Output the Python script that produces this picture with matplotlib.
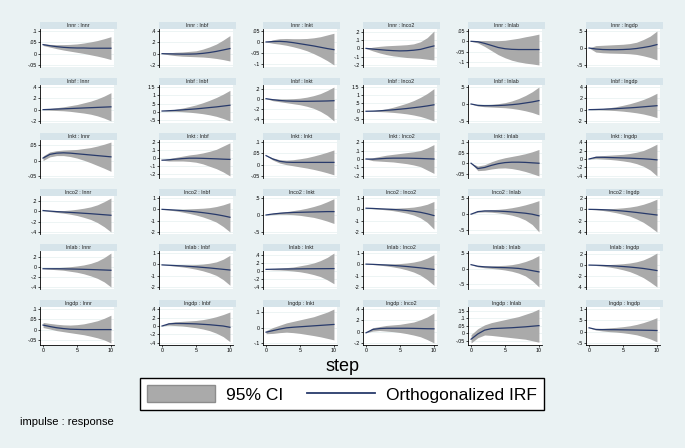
import matplotlib
matplotlib.use("Agg")
import matplotlib.pyplot as plt
from matplotlib.patches import Patch
from matplotlib.lines import Line2D

plt.rcParams["font.family"] = ["Liberation Sans", "DejaVu Sans"]

variables = ["lnnr", "lnbf", "lnkt", "lnco2", "lnlab", "lngdp"]
steps = [0, 1, 2, 3, 4, 5, 6, 7, 8, 9, 10]

# impulse lnnr -> responses lnnr, lnbf, lnkt, lnco2, lnlab, lngdp
irf_lnnr = [
    [0.040, 0.035, 0.031, 0.028, 0.026, 0.025, 0.025, 0.024, 0.024, 0.024, 0.024],
    [0, -0.003, -0.006, -0.008, -0.008, -0.005, 0.005, 0.02, 0.04, 0.065, 0.09],
    [0, 0.002, 0.003, 0.001, -0.003, -0.008, -0.013, -0.018, -0.024, -0.03, -0.035],
    [0, -0.008, -0.015, -0.022, -0.027, -0.03, -0.028, -0.022, -0.012, 0.01, 0.03],
    [0, -0.002, -0.01, -0.02, -0.03, -0.036, -0.039, -0.04, -0.04, -0.04, -0.04],
    [0, -0.03, -0.045, -0.05, -0.05, -0.045, -0.035, -0.015, 0.015, 0.05, 0.1],
]
lo_lnnr = [
    [0.036, 0.029, 0.022, 0.016, 0.011, 0.006, 0.001, -0.005, -0.011, -0.018, -0.026],
    [0, -0.02, -0.035, -0.045, -0.05, -0.055, -0.06, -0.07, -0.085, -0.105, -0.13],
    [0, -0.006, -0.01, -0.015, -0.022, -0.03, -0.04, -0.053, -0.068, -0.085, -0.105],
    [0, -0.03, -0.055, -0.075, -0.09, -0.1, -0.11, -0.115, -0.12, -0.13, -0.14],
    [0, -0.008, -0.025, -0.045, -0.065, -0.08, -0.092, -0.1, -0.106, -0.11, -0.115],
    [0, -0.12, -0.14, -0.15, -0.155, -0.16, -0.17, -0.19, -0.23, -0.28, -0.35],
]
hi_lnnr = [
    [0.044, 0.041, 0.040, 0.040, 0.041, 0.043, 0.047, 0.052, 0.058, 0.066, 0.075],
    [0, 0.015, 0.025, 0.03, 0.04, 0.05, 0.08, 0.12, 0.17, 0.24, 0.32],
    [0, 0.01, 0.015, 0.016, 0.015, 0.015, 0.016, 0.019, 0.024, 0.032, 0.04],
    [0, 0.015, 0.025, 0.032, 0.036, 0.04, 0.045, 0.055, 0.08, 0.13, 0.21],
    [0, 0.004, 0.004, 0.003, 0.003, 0.005, 0.01, 0.015, 0.022, 0.028, 0.035],
    [0, 0.07, 0.08, 0.09, 0.1, 0.11, 0.13, 0.17, 0.25, 0.35, 0.5],
]

irf_lnbf = [
    [0, 0.005, 0.01, 0.015, 0.02, 0.025, 0.03, 0.035, 0.04, 0.045, 0.05],
    [0.05, 0.07, 0.09, 0.12, 0.15, 0.18, 0.22, 0.26, 0.3, 0.35, 0.4],
    [0, -0.02, -0.035, -0.045, -0.05, -0.052, -0.052, -0.05, -0.048, -0.045, -0.04],
    [0, 0.01, 0.03, 0.06, 0.09, 0.13, 0.17, 0.22, 0.27, 0.33, 0.4],
    [0, -0.04, -0.05, -0.05, -0.045, -0.035, -0.02, 0, 0.03, 0.06, 0.1],
    [0, 0.03, 0.07, 0.12, 0.18, 0.25, 0.32, 0.4, 0.5, 0.6, 0.7],
]
lo_lnbf = [
    [0, -0.01, -0.015, -0.02, -0.03, -0.045, -0.06, -0.08, -0.11, -0.15, -0.2],
    [0.05, 0.04, 0.03, 0.01, -0.02, -0.06, -0.11, -0.18, -0.27, -0.4, -0.55],
    [0, -0.04, -0.06, -0.08, -0.1, -0.12, -0.15, -0.19, -0.25, -0.33, -0.44],
    [0, -0.01, -0.02, -0.04, -0.07, -0.11, -0.16, -0.23, -0.32, -0.45, -0.6],
    [0, -0.06, -0.08, -0.09, -0.1, -0.11, -0.13, -0.16, -0.2, -0.25, -0.32],
    [0, -0.02, -0.05, -0.1, -0.17, -0.27, -0.4, -0.56, -0.77, -1.05, -1.4],
]
hi_lnbf = [
    [0, 0.02, 0.035, 0.05, 0.07, 0.09, 0.12, 0.15, 0.19, 0.24, 0.3],
    [0.05, 0.1, 0.16, 0.23, 0.32, 0.42, 0.55, 0.7, 0.87, 1.07, 1.3],
    [0, 0, -0.005, -0.005, 0, 0.01, 0.03, 0.06, 0.1, 0.16, 0.23],
    [0, 0.03, 0.08, 0.15, 0.25, 0.37, 0.5, 0.66, 0.86, 1.1, 1.4],
    [0, -0.02, -0.02, -0.01, 0.01, 0.04, 0.09, 0.16, 0.25, 0.36, 0.5],
    [0, 0.08, 0.19, 0.34, 0.53, 0.77, 1.05, 1.4, 1.8, 2.3, 2.9],
]

irf_lnkt = [
    [0.008, 0.02, 0.024, 0.025, 0.024, 0.022, 0.02, 0.018, 0.016, 0.014, 0.012],
    [-0.025, -0.02, -0.012, -0.005, 0, 0, -0.002, -0.005, -0.008, -0.012, -0.015],
    [0.04, 0.025, 0.015, 0.011, 0.01, 0.01, 0.01, 0.01, 0.01, 0.01, 0.01],
    [0, -0.002, 0.003, 0.008, 0.01, 0.01, 0.01, 0.008, 0.006, 0.003, 0],
    [0, -0.025, -0.02, -0.01, -0.002, 0.003, 0.005, 0.005, 0.004, 0.002, 0],
    [0, 0.04, 0.04, 0.035, 0.03, 0.025, 0.02, 0.012, 0.005, -0.005, -0.02],
]
lo_lnkt = [
    [0.0, 0.012, 0.016, 0.016, 0.013, 0.008, 0.001, -0.007, -0.016, -0.025, -0.035],
    [-0.025, -0.035, -0.035, -0.035, -0.04, -0.05, -0.07, -0.1, -0.13, -0.17, -0.22],
    [0.04, 0.02, 0.007, 0.0, -0.005, -0.01, -0.015, -0.021, -0.028, -0.036, -0.045],
    [0, -0.02, -0.025, -0.03, -0.035, -0.045, -0.055, -0.07, -0.09, -0.13, -0.17],
    [0, -0.035, -0.033, -0.027, -0.023, -0.022, -0.025, -0.031, -0.039, -0.049, -0.06],
    [0, 0.01, 0, -0.01, -0.025, -0.045, -0.07, -0.11, -0.17, -0.26, -0.4],
]
hi_lnkt = [
    [0.015, 0.028, 0.032, 0.034, 0.035, 0.036, 0.039, 0.042, 0.047, 0.053, 0.06],
    [-0.025, -0.005, 0.01, 0.025, 0.04, 0.05, 0.065, 0.085, 0.11, 0.15, 0.19],
    [0.04, 0.03, 0.022, 0.02, 0.022, 0.026, 0.031, 0.038, 0.046, 0.055, 0.065],
    [0, 0.015, 0.03, 0.045, 0.055, 0.065, 0.075, 0.085, 0.1, 0.13, 0.17],
    [0, -0.013, -0.007, 0.007, 0.018, 0.026, 0.032, 0.038, 0.045, 0.054, 0.065],
    [0, 0.07, 0.08, 0.09, 0.1, 0.11, 0.13, 0.16, 0.2, 0.27, 0.35],
]

irf_lnco2 = [
    [0.01, 0, -0.01, -0.018, -0.025, -0.033, -0.042, -0.05, -0.06, -0.07, -0.08],
    [0, -0.03, -0.07, -0.11, -0.16, -0.22, -0.29, -0.37, -0.46, -0.57, -0.7],
    [0, 0.03, 0.05, 0.065, 0.075, 0.08, 0.085, 0.09, 0.095, 0.1, 0.1],
    [0.1, 0.08, 0.05, 0.02, -0.01, -0.05, -0.1, -0.17, -0.26, -0.39, -0.55],
    [0, 0.08, 0.1, 0.1, 0.095, 0.085, 0.07, 0.05, 0.03, 0, -0.05],
    [0, -0.02, -0.06, -0.12, -0.2, -0.3, -0.42, -0.55, -0.7, -0.85, -1.0],
]
lo_lnco2 = [
    [0.01, -0.01, -0.025, -0.04, -0.06, -0.085, -0.12, -0.16, -0.22, -0.3, -0.4],
    [0, -0.06, -0.14, -0.24, -0.36, -0.5, -0.67, -0.88, -1.13, -1.52, -2.0],
    [0, 0.01, 0.02, 0.02, 0.01, -0.01, -0.04, -0.07, -0.12, -0.18, -0.25],
    [0.1, 0.06, 0.01, -0.05, -0.12, -0.22, -0.34, -0.5, -0.75, -1.15, -1.75],
    [0, 0.06, 0.07, 0.06, 0.04, 0.01, -0.03, -0.09, -0.18, -0.32, -0.55],
    [0, -0.08, -0.2, -0.38, -0.6, -0.88, -1.2, -1.7, -2.3, -3.1, -4.0],
]
hi_lnco2 = [
    [0.01, 0.01, 0.008, 0.01, 0.02, 0.035, 0.055, 0.08, 0.12, 0.18, 0.25],
    [0, 0.0, 0.0, 0.01, 0.04, 0.07, 0.1, 0.15, 0.25, 0.4, 0.6],
    [0, 0.05, 0.08, 0.1, 0.13, 0.16, 0.2, 0.25, 0.31, 0.39, 0.48],
    [0.1, 0.1, 0.09, 0.09, 0.1, 0.12, 0.15, 0.2, 0.3, 0.45, 0.7],
    [0, 0.1, 0.13, 0.14, 0.15, 0.17, 0.2, 0.24, 0.29, 0.35, 0.42],
    [0, 0.04, 0.07, 0.12, 0.18, 0.27, 0.4, 0.6, 0.9, 1.3, 1.8],
]

irf_lnlab = [
    [-0.04, -0.04, -0.04, -0.042, -0.045, -0.048, -0.052, -0.056, -0.06, -0.065, -0.07],
    [-0.05, -0.08, -0.11, -0.14, -0.18, -0.22, -0.27, -0.32, -0.38, -0.44, -0.5],
    [0.04, 0.045, 0.048, 0.05, 0.052, 0.054, 0.056, 0.057, 0.058, 0.059, 0.06],
    [0.02, 0.0, -0.03, -0.06, -0.1, -0.14, -0.19, -0.25, -0.31, -0.38, -0.45],
    [0.13, 0.08, 0.06, 0.05, 0.04, 0.035, 0.025, 0.01, -0.02, -0.06, -0.1],
    [0, -0.03, -0.07, -0.12, -0.18, -0.26, -0.36, -0.48, -0.62, -0.8, -1.0],
]
lo_lnlab = [
    [-0.04, -0.05, -0.06, -0.07, -0.09, -0.11, -0.14, -0.18, -0.23, -0.3, -0.4],
    [-0.05, -0.1, -0.16, -0.23, -0.32, -0.43, -0.57, -0.75, -0.98, -1.35, -1.85],
    [0.04, 0.03, 0.025, 0.015, 0.0, -0.02, -0.05, -0.09, -0.14, -0.22, -0.32],
    [0.02, -0.02, -0.07, -0.14, -0.23, -0.34, -0.49, -0.68, -0.95, -1.35, -1.85],
    [0.13, 0.06, 0.03, 0.01, -0.01, -0.04, -0.08, -0.14, -0.23, -0.38, -0.58],
    [0, -0.08, -0.2, -0.36, -0.58, -0.86, -1.2, -1.7, -2.3, -3.1, -4.0],
]
hi_lnlab = [
    [-0.04, -0.03, -0.02, -0.01, 0.0, 0.015, 0.035, 0.065, 0.11, 0.18, 0.27],
    [-0.05, -0.06, -0.06, -0.05, -0.04, -0.02, 0.02, 0.1, 0.22, 0.45, 0.8],
    [0.04, 0.06, 0.07, 0.085, 0.1, 0.13, 0.16, 0.2, 0.26, 0.34, 0.45],
    [0.02, 0.02, 0.01, 0.02, 0.04, 0.07, 0.12, 0.2, 0.33, 0.55, 0.85],
    [0.13, 0.1, 0.09, 0.09, 0.1, 0.11, 0.13, 0.17, 0.23, 0.31, 0.42],
    [0, 0.02, 0.06, 0.1, 0.16, 0.25, 0.38, 0.6, 0.95, 1.5, 2.2],
]

irf_lngdp = [
    [0.022, 0.015, 0.009, 0.005, 0.002, 0.001, 0.0, 0.0, 0.0, 0.0, 0.0],
    [0, 0.05, 0.06, 0.058, 0.055, 0.05, 0.04, 0.03, 0.015, 0, -0.03],
    [-0.03, -0.02, -0.01, -0.002, 0.002, 0.005, 0.008, 0.011, 0.014, 0.017, 0.02],
    [-0.02, 0.04, 0.055, 0.06, 0.06, 0.06, 0.06, 0.058, 0.055, 0.052, 0.05],
    [-0.04, -0.005, 0.02, 0.03, 0.032, 0.034, 0.036, 0.039, 0.042, 0.046, 0.05],
    [0.17, 0.1, 0.09, 0.088, 0.085, 0.08, 0.075, 0.07, 0.065, 0.06, 0.05],
]
lo_lngdp = [
    [0.01, 0.003, -0.005, -0.01, -0.015, -0.02, -0.025, -0.032, -0.04, -0.05, -0.065],
    [0, 0.02, 0.01, 0, -0.02, -0.04, -0.07, -0.11, -0.17, -0.25, -0.37],
    [-0.04, -0.038, -0.033, -0.03, -0.033, -0.038, -0.045, -0.052, -0.06, -0.07, -0.08],
    [-0.02, 0.01, 0.02, 0.01, 0.0, -0.015, -0.035, -0.06, -0.09, -0.14, -0.2],
    [-0.065, -0.03, -0.012, -0.015, -0.02, -0.025, -0.03, -0.035, -0.04, -0.05, -0.06],
    [0.17, 0.07, 0.03, 0.0, -0.02, -0.05, -0.09, -0.14, -0.22, -0.32, -0.45],
]
hi_lngdp = [
    [0.035, 0.03, 0.026, 0.023, 0.022, 0.024, 0.028, 0.035, 0.043, 0.055, 0.07],
    [0, 0.08, 0.1, 0.11, 0.12, 0.13, 0.15, 0.18, 0.22, 0.27, 0.33],
    [-0.02, 0.0, 0.015, 0.03, 0.04, 0.05, 0.06, 0.07, 0.085, 0.1, 0.12],
    [-0.02, 0.07, 0.09, 0.11, 0.12, 0.13, 0.15, 0.17, 0.21, 0.26, 0.33],
    [-0.01, 0.03, 0.055, 0.07, 0.08, 0.09, 0.1, 0.11, 0.125, 0.14, 0.16],
    [0.17, 0.13, 0.15, 0.17, 0.19, 0.22, 0.26, 0.32, 0.4, 0.5, 0.62],
]

yticks_lnnr = [[-.05, 0, .05, .1], [-.2, 0, .2, .4], [-.1, -.05, 0, .05],
               [-.2, -.1, 0, .1, .2], [-.1, -.05, 0, .05], [-.5, 0, .5]]
yticks_lnbf = [[-.2, 0, .2, .4], [-.5, 0, .5, 1, 1.5], [-.4, -.2, 0, .2],
               [-.5, 0, .5, 1, 1.5], [-.5, 0, .5], [-2, 0, 2, 4]]
yticks_lnkt = [[-.05, 0, .05], [-.2, -.1, 0, .1, .2], [-.05, 0, .05, .1],
               [-.2, -.1, 0, .1, .2], [-.05, 0, .05, .1], [-.4, -.2, 0, .2, .4]]
yticks_lnco2 = [[-.4, -.2, 0, .2], [-2, -1, 0, 1], [-.5, 0, .5],
                [-2, -1, 0, 1], [-.5, 0, .5], [-4, -2, 0, 2]]
yticks_lnlab = [[-.4, -.2, 0, .2], [-2, -1, 0, 1], [-.4, -.2, 0, .2, .4],
                [-2, -1, 0, 1], [-.5, 0, .5], [-4, -2, 0, 2]]
yticks_lngdp = [[-.05, 0, .05, .1], [-.4, -.2, 0, .2, .4], [-.1, 0, .1],
                [-.2, 0, .2, .4], [-.05, 0, .05, .1, .15], [-.5, 0, .5, 1]]

irf_all = [irf_lnnr, irf_lnbf, irf_lnkt, irf_lnco2, irf_lnlab, irf_lngdp]
lo_all = [lo_lnnr, lo_lnbf, lo_lnkt, lo_lnco2, lo_lnlab, lo_lngdp]
hi_all = [hi_lnnr, hi_lnbf, hi_lnkt, hi_lnco2, hi_lnlab, hi_lngdp]
yticks_all = [yticks_lnnr, yticks_lnbf, yticks_lnkt, yticks_lnco2, yticks_lnlab, yticks_lngdp]

BG = "#eaf2f3"
BAND = "#d6e4ea"
CI = "#aaaaaa"
LINE = "#283a6b"

W, H = 685, 448
col_x = [40, 159, 263, 363, 468, 586]
row_y = [29, 85, 140, 196, 251, 307]
pw, ph, th = 74, 38, 7


def stata_fmt(v):
    s = f"{v:g}"
    if s.startswith("0."):
        s = s[1:]
    elif s.startswith("-0."):
        s = "-" + s[2:]
    return s


fig = plt.figure(figsize=(W / 100, H / 100), dpi=100, facecolor=BG)

for i, imp in enumerate(variables):
    for j, resp in enumerate(variables):
        x0, y0 = col_x[j], row_y[i]
        ax = fig.add_axes([x0 / W, 1 - (y0 + ph) / H, pw / W, ph / H])
        lo, hi, irf = lo_all[i][j], hi_all[i][j], irf_all[i][j]
        ticks = yticks_all[i][j]
        ax.fill_between(steps, lo, hi, color=CI, lw=0)
        ax.plot(steps, irf, color=LINE, lw=0.9)
        ymin = min(min(lo), ticks[0])
        ymax = max(max(hi), ticks[-1])
        pad = 0.06 * (ymax - ymin)
        ax.set_ylim(ymin - pad, ymax + pad)
        ax.set_xlim(-0.45, 10.45)
        ax.set_yticks(ticks)
        ax.set_yticklabels([stata_fmt(t) for t in ticks])
        ax.yaxis.grid(True, color=BG, lw=0.6)
        ax.set_axisbelow(True)
        for s in ["top", "right"]:
            ax.spines[s].set_visible(False)
        ax.spines["left"].set_linewidth(0.6)
        ax.tick_params(axis="y", labelsize=3.8, length=1.5, width=0.5, pad=1)
        if i == len(variables) - 1:
            ax.set_xticks([0, 5, 10])
            ax.tick_params(axis="x", labelsize=3.8, length=1.5, width=0.5, pad=1)
            ax.spines["bottom"].set_linewidth(0.6)
        else:
            ax.set_xticks([])
            ax.spines["bottom"].set_visible(False)

        tax = fig.add_axes([x0 / W, 1 - y0 / H, (pw + 3) / W, th / H])
        tax.set_facecolor(BAND)
        tax.set_xticks([])
        tax.set_yticks([])
        for s in tax.spines.values():
            s.set_visible(False)
        tax.text(0.5, 0.45, f"{imp} : {resp}", ha="center", va="center",
                 fontsize=3.8, color="#222222", transform=tax.transAxes)

fig.text(342 / W, 1 - 366 / H, "step", ha="center", va="center", fontsize=13)

handles = [Patch(facecolor=CI, edgecolor="#8c8c8c", lw=1),
           Line2D([], [], color=LINE, lw=1.3)]
leg = fig.legend(handles, ["95% CI", "Orthogonalized IRF"], loc="center",
                 bbox_to_anchor=(342 / W, 1 - 394 / H), ncol=2, fontsize=12.5,
                 handlelength=3.9, handleheight=1.1, handletextpad=0.65,
                 columnspacing=1.4, borderpad=0.4, fancybox=False,
                 framealpha=1, edgecolor="black")
leg.get_frame().set_linewidth(1.0)

fig.text(20 / W, 1 - 422 / H, "impulse : response", ha="left", va="center",
         fontsize=8)

fig.savefig("out.png", dpi=100, facecolor=BG)
